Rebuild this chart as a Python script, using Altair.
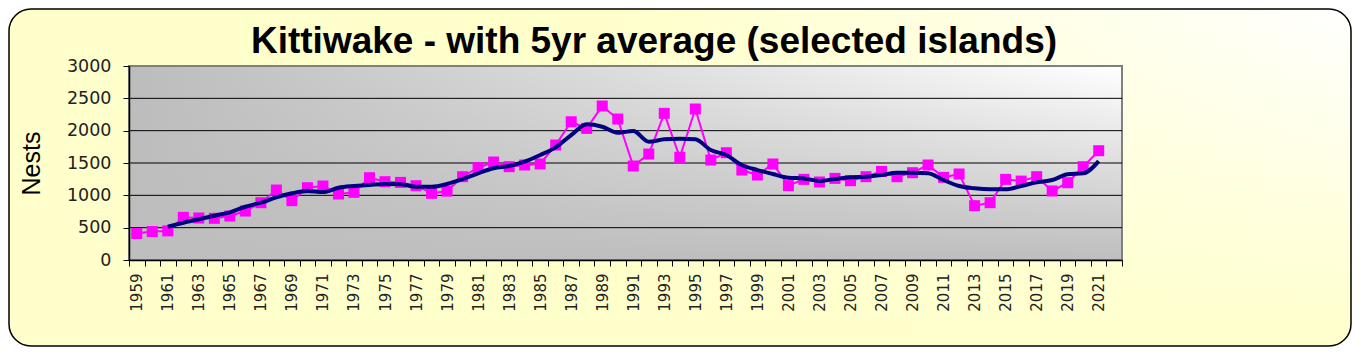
import altair as alt
import pandas as pd

# ---- data ----
years = list(range(1959, 2023))          # category slots (2022 empty)
nest_years = list(range(1959, 2022))
nests = [410, 440, 450, 660, 650, 645, 680, 757, 886, 1082,
         917, 1118, 1144, 1020, 1046, 1273, 1211, 1200, 1149, 1031,
         1065, 1288, 1427, 1515, 1443, 1469, 1485, 1778, 2138, 2035,
         2381, 2180, 1453, 1639, 2268, 1588, 2335, 1546, 1659, 1391,
         1314, 1485, 1150, 1247, 1206, 1262, 1226, 1288, 1370, 1288,
         1350, 1469, 1278, 1330, 840, 886, 1247, 1220, 1288, 1067,
         1195, 1443, 1690]
avg_years = list(range(1961, 2022))
avg5 = [515, 577, 629, 685, 737, 824, 886, 969, 1031, 1067,
        1050, 1118, 1144, 1160, 1175, 1170, 1133, 1133, 1175, 1250,
        1340, 1418, 1453, 1520, 1623, 1742, 1932, 2098, 2061, 1968,
        1994, 1829, 1866, 1876, 1866, 1700, 1623, 1469, 1391, 1330,
        1273, 1262, 1221, 1252, 1278, 1288, 1314, 1350, 1350, 1340,
        1237, 1144, 1108, 1093, 1093, 1144, 1200, 1237, 1325, 1340,
        1530]
y_ticks = [0, 500, 1000, 1500, 2000, 2500, 3000]
grid_vals = [500, 1000, 1500, 2000, 2500]
title_text = "Kittiwake - with 5yr average (selected islands)"

df_n = pd.DataFrame({"year": nest_years, "nests": nests})
df_a = pd.DataFrame({"year": avg_years, "avg": avg5})
df_g = pd.DataFrame({"v": grid_vals})

# ---- layout ----
W, H = 993, 194
PL, PT = 121, 58
TOTW, TOTH = 1344, 339
PR = TOTW - PL - W
PB = TOTH - PT - H

xscale = alt.Scale(type="band", domain=years, paddingInner=0, paddingOuter=0)
yscale = alt.Scale(domain=[0, 3000], nice=False)

one = alt.Data(values=[{}])


def lin(x1, y1, x2, y2, stops):
    return alt.LinearGradient(gradient="linear", x1=x1, y1=y1, x2=x2, y2=y2,
                              stops=[alt.GradientStop(color=c, offset=o) for o, c in stops])


box = dict(x=alt.value(-PL + 1), x2=alt.value(W + PR - 1),
           y=alt.value(-PT + 1), y2=alt.value(H + PB - 1))
outer1 = alt.Chart(one).mark_rect(
    cornerRadius=22,
    fill=lin(0, 0, 1, 0, [(0, "#FFFFCC"), (0.45, "#FFFFCC"), (1, "#FFFFFF")])
).encode(**box)
outer2 = alt.Chart(one).mark_rect(
    cornerRadius=22, stroke="black", strokeWidth=1.5,
    fill=lin(0, 0, 0, 1, [(0, "rgba(255,255,204,0)"), (1, "rgba(255,255,204,1)")])
).encode(**box)

pbox = dict(x=alt.value(0), x2=alt.value("width"), y=alt.value(0), y2=alt.value("height"))
plot1 = alt.Chart(one).mark_rect(
    fill=lin(0, 0, 1, 0, [(0, "#BCBCBC"), (1, "#FFFFFF")])
).encode(**pbox)
plot2 = alt.Chart(one).mark_rect(
    stroke="#808080", strokeWidth=2,
    fill=lin(0, 0, 0, 1, [(0, "rgba(190,190,190,0)"), (1, "rgba(190,190,190,1)")])
).encode(**pbox)

xaxis = alt.Axis(title=None, labelExpr="datum.value % 2 == 1 ? datum.label : ''",
                 labelAngle=270, labelAlign="right", labelBaseline="middle",
                 labelFont="DejaVu Sans", labelFontSize=15, labelColor="#222",
                 labelPadding=7, tickBand="extent", tickSize=6, tickColor="black",
                 domainColor="black", domainWidth=1.5, grid=False, zindex=1,
                 labelOverlap=False)
yaxis = alt.Axis(title="Nests", values=y_ticks, format="d", titleFont="Liberation Sans",
                 titleFontSize=25, titleFontWeight="normal", titleColor="black",
                 titlePadding=22, labelFont="DejaVu Sans", labelFontSize=17.5,
                 labelColor="#222", labelPadding=12, tickSize=6, tickColor="black",
                 domainColor="black", domainWidth=1.5, grid=False, zindex=1)

grid = alt.Chart(df_g).mark_rule(color="black", strokeWidth=1).encode(
    y=alt.Y("v:Q", scale=yscale, axis=yaxis)
)

line_n = alt.Chart(df_n).mark_line(color="#FF00FF", strokeWidth=2).encode(
    x=alt.X("year:O", scale=xscale, axis=xaxis),
    y=alt.Y("nests:Q", scale=yscale, axis=yaxis),
)
pts_n = alt.Chart(df_n).mark_point(shape="square", filled=True, color="#FF00FF",
                                   size=121, opacity=1).encode(
    x=alt.X("year:O", scale=xscale, axis=xaxis),
    y=alt.Y("nests:Q", scale=yscale, axis=yaxis),
)
line_a = alt.Chart(df_a).mark_line(color="#000080", strokeWidth=4,
                                   interpolate="monotone").encode(
    x=alt.X("year:O", scale=xscale, axis=xaxis),
    y=alt.Y("avg:Q", scale=yscale, axis=yaxis),
)

title = alt.Chart(alt.Data(values=[{"t": title_text}])).mark_text(
    font="Liberation Sans", fontSize=37, fontWeight="bold", color="black",
    align="center", baseline="alphabetic"
).encode(text="t:N", x=alt.value(654 - 129), y=alt.value(53 - 66))

chart = alt.layer(outer1, outer2, plot1, plot2, grid, line_n, pts_n, line_a, title).properties(
    width=W, height=H,
    autosize=alt.AutoSizeParams(type="none"),
    padding={"left": PL, "top": PT, "right": PR, "bottom": PB},
).configure_view(stroke=None).configure(background="white")

chart.save("out.html", embed_options={"renderer": "svg", "actions": False})
